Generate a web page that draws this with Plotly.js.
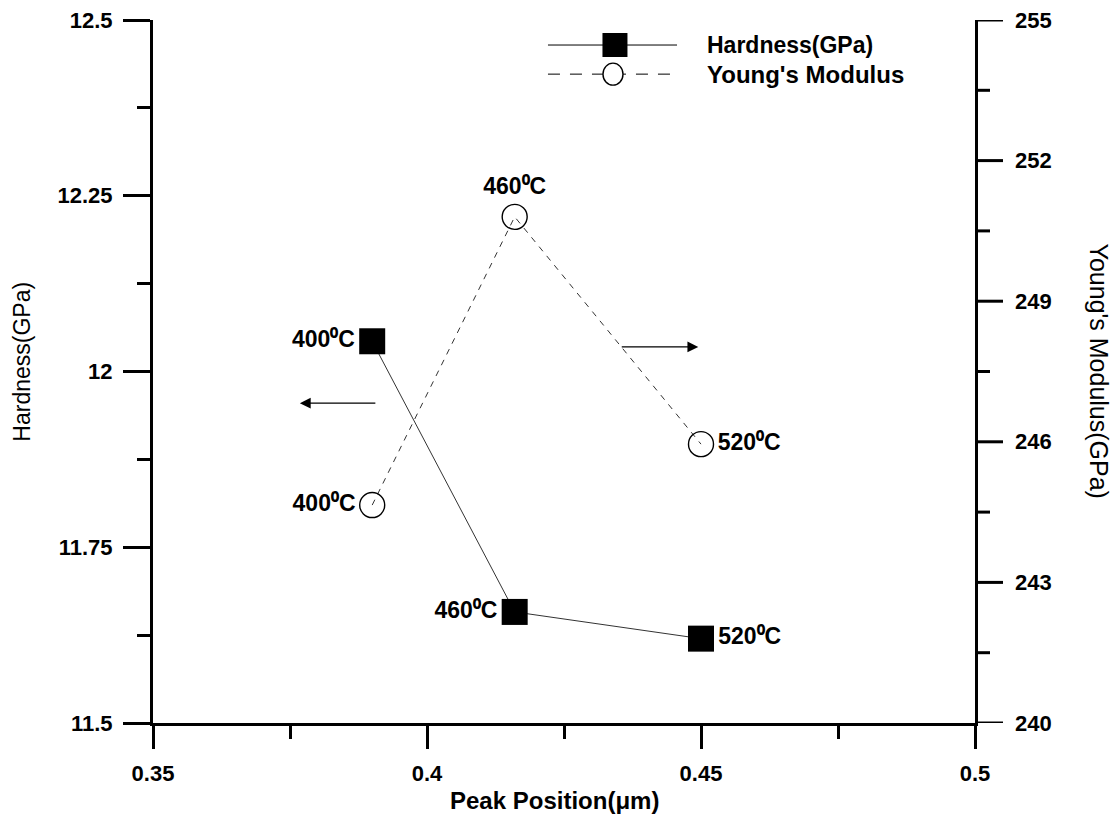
<!DOCTYPE html>
<html><head><meta charset="utf-8">
<script src="https://cdn.plot.ly/plotly-3.0.1.min.js"></script>
<style>body{margin:0;background:#fff}#c{width:1120px;height:814px}</style>
</head><body><div id="c"></div>
<script>
var peakPos = [0.39, 0.416, 0.45];
var hardness = [12.043, 11.658, 11.62];
var youngs = [244.65, 250.8, 245.95];
var tempLabels = ['400⁰C', '460⁰C', '520⁰C'];
var hardPos = ['middle left', 'middle left', 'middle right'];
var youngPos = ['middle left', 'top center', 'middle right'];
var xTickVals = [0.35, 0.4, 0.45, 0.5];
var xTickText = ['0.35', '0.4', '0.45', '0.5'];
var yTickVals = [11.5, 11.75, 12, 12.25, 12.5];
var yTickText = ['11.5', '11.75', '12', '12.25', '12.5'];
var y2TickVals = [240, 243, 246, 249, 252, 255];
var y2TickText = ['240', '243', '246', '249', '252', '255'];
var y2MinorVals = [241.5, 244.5, 247.5, 250.5, 253.5];
var seriesNames = ['Hardness(GPa)', "Young's Modulus"];

var F = 'Liberation Sans, Arial, sans-serif';
var boldFont = function (s) { return {family: F, size: s, color: '#000', weight: 'bold'}; };
var regFont = function (s) { return {family: F, size: s, color: '#000'}; };

var traces = [
  {x: peakPos, y: hardness, name: seriesNames[0], mode: 'lines+markers+text',
   text: tempLabels, textposition: hardPos, textfont: boldFont(23),
   line: {color: '#333', width: 1}, marker: {symbol: 'square', size: 26, color: '#000'},
   showlegend: false, cliponaxis: false},
  {x: peakPos, y: youngs, name: seriesNames[1], yaxis: 'y2', mode: 'lines+markers+text',
   text: tempLabels, textposition: youngPos, textfont: boldFont(23),
   line: {color: '#333', width: 1, dash: '6px,6px'},
   marker: {symbol: 'circle-open', size: 25, color: '#000', line: {width: 1.4, color: '#000'}},
   showlegend: false, cliponaxis: false}
];

var axBase = {showgrid: false, zeroline: false, showline: true, linecolor: '#000', linewidth: 3,
  ticks: 'outside', tickwidth: 3, tickcolor: '#000', tickmode: 'array',
  tickfont: boldFont(22)};

var PW = 822; // plot width in px, for pixel-length tick marks in paper units
var shapes = [
  {type: 'line', xref: 'paper', yref: 'paper', x0: 0.4805, x1: 0.6375, y0: 0.9644, y1: 0.9644, line: {color: '#000', width: 1}},
  {type: 'rect', xref: 'paper', yref: 'paper', xsizemode: 'pixel', ysizemode: 'pixel', xanchor: 0.562, yanchor: 0.9644,
   x0: -12.5, x1: 12.5, y0: -12, y1: 12, fillcolor: '#000', line: {width: 0}},
  {type: 'line', xref: 'paper', yref: 'paper', x0: 0.4805, x1: 0.6375, y0: 0.923, y1: 0.923, line: {color: '#000', width: 1, dash: '12px,10px'}},
  {type: 'circle', xref: 'paper', yref: 'paper', xsizemode: 'pixel', ysizemode: 'pixel', xanchor: 0.5596, yanchor: 0.923,
   x0: -10, x1: 10, y0: -11, y1: 11, fillcolor: '#fff', line: {color: '#000', width: 1.4}}
];
y2TickVals.forEach(function (v) {
  shapes.push({type: 'line', xref: 'paper', yref: 'y2', x0: 1, x1: 1 + 28 / PW, y0: v, y1: v,
    line: {color: '#000', width: 3}, layer: 'above'});
});
y2MinorVals.forEach(function (v) {
  shapes.push({type: 'line', xref: 'paper', yref: 'y2', x0: 1, x1: 1 + 15 / PW, y0: v, y1: v,
    line: {color: '#000', width: 3}, layer: 'above'});
});

var annotations = [
  {xref: 'paper', yref: 'paper', x: 0.672, y: 0.9644, xanchor: 'left', yanchor: 'middle', showarrow: false,
   text: seriesNames[0], font: boldFont(23)},
  {xref: 'paper', yref: 'paper', x: 0.672, y: 0.923, xanchor: 'left', yanchor: 'middle', showarrow: false,
   text: seriesNames[1], font: boldFont(24)},
  {xref: 'paper', yref: 'paper', x: -0.1594, y: 0.514, xanchor: 'center', yanchor: 'middle', showarrow: false,
   textangle: -90, text: 'Hardness(GPa)', font: regFont(23)},
  {xref: 'paper', yref: 'paper', x: 1.152, y: 0.5, xanchor: 'center', yanchor: 'middle', showarrow: false,
   textangle: 90, text: "Young's Modulus(GPa)", font: regFont(25)},
  {xref: 'paper', yref: 'paper', x: 0.489, y: -0.11, xanchor: 'center', yanchor: 'middle', showarrow: false,
   text: 'Peak Position(μm)', font: boldFont(24)},
  {xref: 'x', yref: 'y', x: 0.3768, y: 11.955, ax: 77, ay: 0, text: '', showarrow: true,
   arrowhead: 2, arrowsize: 1.8, arrowwidth: 1.2, arrowcolor: '#000'},
  {xref: 'x', yref: 'y', x: 0.4495, y: 12.035, ax: -78, ay: 0, text: '', showarrow: true,
   arrowhead: 2, arrowsize: 1.8, arrowwidth: 1.2, arrowcolor: '#000'}
];
y2TickVals.forEach(function (v, i) {
  annotations.push({xref: 'paper', yref: 'y2', x: 1 + 38 / PW, y: v, xanchor: 'left', yanchor: 'middle',
    showarrow: false, text: y2TickText[i], font: boldFont(22)});
});

var layout = {
  width: 1120, height: 814, paper_bgcolor: '#fff', plot_bgcolor: '#fff',
  margin: {l: 153, r: 145, t: 20, b: 91},
  showlegend: false,
  xaxis: Object.assign({}, axBase, {range: [0.35, 0.5], tickvals: xTickVals, ticktext: xTickText,
    ticklen: 23, ticklabelstandoff: 6,
    minor: {dtick: 0.025, tick0: 0.35, ticklen: 13, tickwidth: 3, tickcolor: '#000', ticks: 'outside'}}),
  yaxis: Object.assign({}, axBase, {range: [11.5, 12.5], tickvals: yTickVals, ticktext: yTickText,
    ticklen: 27, ticklabelstandoff: 6,
    minor: {dtick: 0.125, tick0: 11.5, ticklen: 13, tickwidth: 3, tickcolor: '#000', ticks: 'outside'}}),
  yaxis2: {range: [240, 255], overlaying: 'y', side: 'right', anchor: 'x', showgrid: false, zeroline: false,
    showline: true, linecolor: '#000', linewidth: 3, ticks: '', showticklabels: false},
  shapes: shapes,
  annotations: annotations
};
Plotly.newPlot('c', traces, layout, {displayModeBar: false, staticPlot: true});
</script></body></html>
